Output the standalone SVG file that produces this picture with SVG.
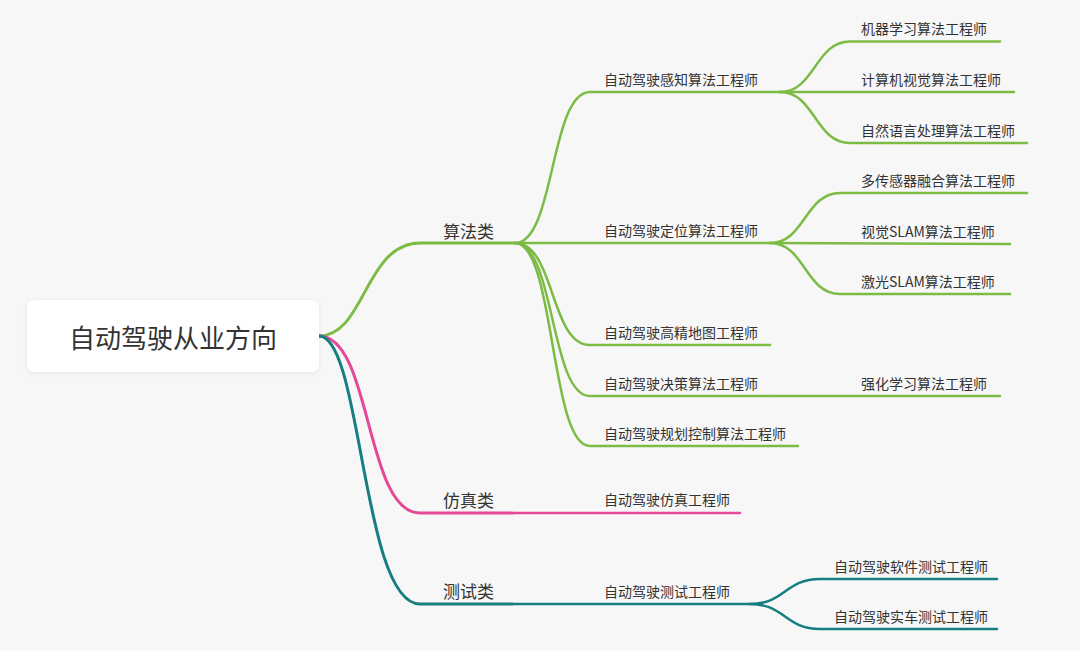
<svg xmlns="http://www.w3.org/2000/svg" width="1080" height="651" viewBox="0 0 1080 651">
<defs>
<style>
.t{font-family:"Noto Sans CJK SC","Liberation Sans",sans-serif;fill:#333;}
.t1{font-size:17px;}
.t2{font-size:14px;}
.g{stroke:#7cbc45;fill:none;stroke-linecap:round;}
.p{stroke:#e5489a;fill:none;stroke-linecap:round;}
.c{stroke:#167e80;fill:none;stroke-linecap:round;}
.w1{stroke-width:3;}
.w2{stroke-width:2.5;}
</style>
<filter id="sh" x="-10%" y="-20%" width="120%" height="150%">
<feDropShadow dx="0" dy="1" stdDeviation="2" flood-color="#000" flood-opacity="0.08"/>
</filter>
</defs>
<rect width="1080" height="651" fill="#f7f7f7"/>
<g id="connectors">
<path class="g w1" d="M319,336 C365,336 365,243 420,243 L515,243"/>
<path class="p w1" d="M319,336 C372,336 365,513 420,513 L512,513"/>
<path class="c w1" d="M319,336 C362,336 362,604 420,604 L512,604"/>
<path class="g w2" d="M515,243 C555,243 550,92 590,92 L780,92"/>
<path class="g w2" d="M515,243 L770,243"/>
<path class="g w2" d="M515,243 C555,243 550,345 590,345 L770,345"/>
<path class="g w2" d="M515,243 C555,243 550,396 590,396 L770,396"/>
<path class="g w2" d="M515,243 C555,243 550,446 590,446 L798,446"/>
<path class="p w2" d="M512,513 L740,513"/>
<path class="c w2" d="M512,604 L750,604"/>
<path class="g w2" d="M780,92 C815,92 815,41.5 850,41.5 L1000,41.5"/>
<path class="g w2" d="M780,92 L1014,92"/>
<path class="g w2" d="M780,92 C815,92 815,143 850,143 L1027,143"/>
<path class="g w2" d="M770,243 C805,243 805,193 840,193 L1027,193"/>
<path class="g w2" d="M770,243 L1010,244"/>
<path class="g w2" d="M770,243 C805,243 805,294 840,294 L1010,294"/>
<path class="g w2" d="M770,396 L1000,396"/>
<path class="c w2" d="M750,604 C785,604 785,579 820,579 L997,579"/>
<path class="c w2" d="M750,604 C785,604 785,629 820,629 L997,629"/>
</g>
<g id="root">
<rect x="27" y="300" width="292" height="72" rx="7" fill="#fff" filter="url(#sh)"/>
<text class="t" x="173" y="348" font-size="26" text-anchor="middle">自动驾驶从业方向</text>
</g>
<g id="n-suanfa"><text class="t t1" x="443" y="238">算法类</text></g>
<g id="n-fangzhen"><text class="t t1" x="443" y="507">仿真类</text></g>
<g id="n-ceshi"><text class="t t1" x="443" y="598">测试类</text></g>
<g id="n-ganzhi"><text class="t t2" x="604" y="85">自动驾驶感知算法工程师</text></g>
<g id="n-dingwei"><text class="t t2" x="604" y="236">自动驾驶定位算法工程师</text></g>
<g id="n-ditu"><text class="t t2" x="604" y="338">自动驾驶高精地图工程师</text></g>
<g id="n-juece"><text class="t t2" x="604" y="389">自动驾驶决策算法工程师</text></g>
<g id="n-guihua"><text class="t t2" x="604" y="439">自动驾驶规划控制算法工程师</text></g>
<g id="n-fz"><text class="t t2" x="604" y="505">自动驾驶仿真工程师</text></g>
<g id="n-cs"><text class="t t2" x="604" y="597">自动驾驶测试工程师</text></g>
<g id="n-jiqi"><text class="t t2" x="861" y="34">机器学习算法工程师</text></g>
<g id="n-jisuanji"><text class="t t2" x="861" y="85">计算机视觉算法工程师</text></g>
<g id="n-ziran"><text class="t t2" x="861" y="136">自然语言处理算法工程师</text></g>
<g id="n-duochuan"><text class="t t2" x="861" y="186">多传感器融合算法工程师</text></g>
<g id="n-shijue"><text class="t t2" x="861" y="237">视觉SLAM算法工程师</text></g>
<g id="n-jiguang"><text class="t t2" x="861" y="287">激光SLAM算法工程师</text></g>
<g id="n-qianghua"><text class="t t2" x="861" y="389">强化学习算法工程师</text></g>
<g id="n-ruanjian"><text class="t t2" x="834" y="572">自动驾驶软件测试工程师</text></g>
<g id="n-shiche"><text class="t t2" x="834" y="622">自动驾驶实车测试工程师</text></g>
</svg>
